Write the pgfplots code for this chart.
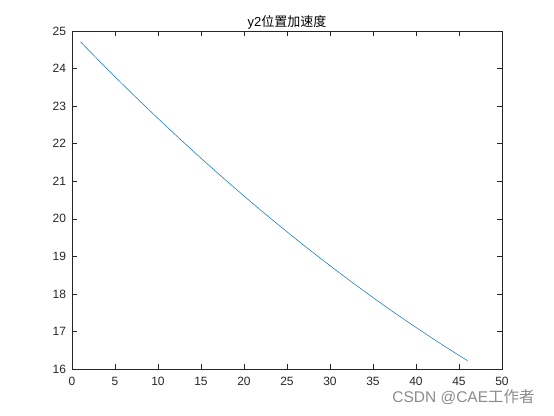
\documentclass[border=0pt]{standalone}
\usepackage{pgfplots}
\pgfplotsset{compat=1.18}
\usepackage{fontspec}
\setmainfont{Liberation Sans}
\newfontfamily\cjk{Noto Sans CJK SC}

\definecolor{mblue}{rgb}{0,0.447,0.741}
\definecolor{axgray}{rgb}{0.15,0.15,0.15}

\begin{document}
\begin{tikzpicture}
\useasboundingbox (-72pt,-46pt) rectangle (482pt,369pt);
\begin{axis}[
    at={(0,0)}, anchor=south west,
    scale only axis,
    width=430pt, height=338pt,
    xmin=0, xmax=50, ymin=16, ymax=25,
    xtick={0,5,...,50},
    ytick={16,17,...,25},
    tick align=inside,
    major tick length=4.5pt,
    axis line style={axgray, line width=0.5pt},
    tick style={axgray, line width=0.5pt},
    every tick label/.append style={font=\fontsize{12}{14}\selectfont, text=axgray},
    /pgf/number format/assume math mode=true,
    xticklabel style={yshift=-5pt},
    yticklabel style={xshift=-2.5pt},
    title={\fontsize{13}{15}\selectfont y2{\cjk 位置加速度}},
    title style={yshift=-8pt, text=black},
]
\addplot[mblue, line width=0.5pt] coordinates {
(1,24.710) (2,24.475) (3,24.242) (4,24.012) (5,23.783) (6,23.557)
(7,23.332) (8,23.110) (9,22.890) (10,22.672) (11,22.456) (12,22.242)
(13,22.030) (14,21.821) (15,21.613) (16,21.408) (17,21.204) (18,21.003)
(19,20.804) (20,20.607) (21,20.412) (22,20.219) (23,20.028) (24,19.840)
(25,19.653) (26,19.469) (27,19.286) (28,19.106) (29,18.928) (30,18.752)
(31,18.578) (32,18.406) (33,18.236) (34,18.069) (35,17.903) (36,17.740)
(37,17.578) (38,17.419) (39,17.262) (40,17.107) (41,16.954) (42,16.803)
(43,16.654) (44,16.508) (45,16.363) (46,16.221)
};
\end{axis}
\node[text=black!45, font=\fontsize{15.5}{18}\selectfont, inner sep=0pt] at (391.5pt,-28pt) {CSDN @CAE{\cjk 工作者}};
\end{tikzpicture}
\end{document}
